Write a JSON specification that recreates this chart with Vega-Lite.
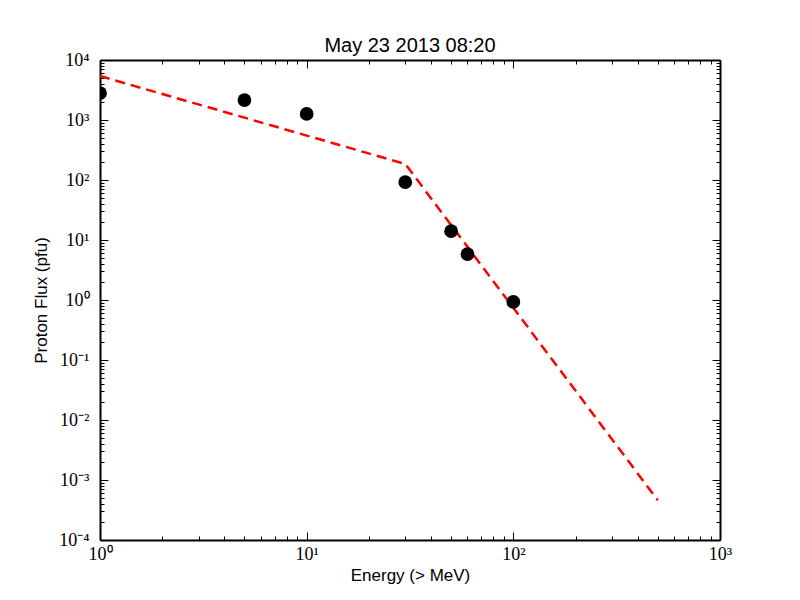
{
  "$schema": "https://vega.github.io/schema/vega-lite/v6.json",
  "width": 620,
  "height": 480,
  "autosize": {"type": "none"},
  "padding": {"left": 100, "top": 60, "right": 80, "bottom": 60},
  "background": "white",
  "title": {"text": "May 23 2013 08:20", "font": "Liberation Sans", "fontSize": 20, "fontWeight": "normal", "color": "black", "offset": -5},
  "datasets": {
    "obs": [
      {"energy": 1, "flux": 2800},
      {"energy": 5, "flux": 2150},
      {"energy": 10, "flux": 1260},
      {"energy": 30, "flux": 92},
      {"energy": 50, "flux": 14},
      {"energy": 60, "flux": 5.8},
      {"energy": 100, "flux": 0.93}
    ],
    "fit": [
      {"energy": 1, "flux": 5400},
      {"energy": 30, "flux": 185},
      {"energy": 500, "flux": 0.00046}
    ]
  },
  "config": {
    "view": {"stroke": null},
    "axis": {
      "grid": false,
      "domainColor": "black",
      "domainWidth": 2,
      "tickColor": "black",
      "tickWidth": 1,
      "labelFont": "Liberation Serif",
      "labelFontSize": 18,
      "labelColor": "black",
      "titleFont": "Liberation Sans",
      "titleFontSize": 17,
      "titleFontWeight": "normal",
      "titleColor": "black"
    }
  },
  "layer": [
    {
      "data": {"name": "fit"},
      "mark": {"type": "line", "color": "red", "strokeWidth": 2.5, "strokeDash": [10, 6], "clip": true},
      "encoding": {
        "x": {
          "field": "energy", "type": "quantitative",
          "scale": {"type": "log", "domain": [1, 1000], "nice": false},
          "axis": {
            "orient": "bottom",
            "title": "Energy (> MeV)",
            "titlePadding": 0,
            "values": [1,2,3,4,5,6,7,8,9,10,20,30,40,50,60,70,80,90,100,200,300,400,500,600,700,800,900,1000],
            "labelExpr": "datum.value == 1 ? '10⁰' : datum.value == 10 ? '10¹' : datum.value == 100 ? '10²' : datum.value == 1000 ? '10³' : ''",
            "labelPadding": 13,
            "labelFlush": false,
            "labelOverlap": false,
            "tickSize": {"condition": {"test": "abs(log(datum.value)/LN10 - round(log(datum.value)/LN10)) < 1e-6", "value": -8}, "value": -4}
          }
        },
        "y": {
          "field": "flux", "type": "quantitative",
          "scale": {"type": "log", "domain": [0.0001, 10000], "nice": false},
          "axis": {
            "orient": "left",
            "title": "Proton Flux (pfu)",
            "titlePadding": 8,
            "values": [0.0001,0.0002,0.0003,0.0004,0.0005,0.0006,0.0007,0.0008,0.0009,0.001,0.002,0.003,0.004,0.005,0.006,0.007,0.008,0.009,0.01,0.02,0.03,0.04,0.05,0.06,0.07,0.08,0.09,0.1,0.2,0.3,0.4,0.5,0.6,0.7,0.8,0.9,1,2,3,4,5,6,7,8,9,10,20,30,40,50,60,70,80,90,100,200,300,400,500,600,700,800,900,1000,2000,3000,4000,5000,6000,7000,8000,9000,10000],
            "labelExpr": "datum.value == 0.0001 ? '10⁻⁴' : datum.value == 0.001 ? '10⁻³' : datum.value == 0.01 ? '10⁻²' : datum.value == 0.1 ? '10⁻¹' : datum.value == 1 ? '10⁰' : datum.value == 10 ? '10¹' : datum.value == 100 ? '10²' : datum.value == 1000 ? '10³' : datum.value == 10000 ? '10⁴' : ''",
            "labelPadding": 19,
            "labelFlush": false,
            "labelOverlap": false,
            "tickSize": {"condition": {"test": "abs(log(datum.value)/LN10 - round(log(datum.value)/LN10)) < 1e-6", "value": -8}, "value": -4}
          }
        }
      }
    },
    {
      "data": {"name": "obs"},
      "mark": {"type": "circle", "color": "black", "opacity": 1, "size": 190, "clip": true},
      "encoding": {
        "x": {
          "field": "energy", "type": "quantitative",
          "scale": {"type": "log", "domain": [1, 1000], "nice": false},
          "axis": {
            "orient": "top",
            "title": null,
            "labels": false,
            "values": [1,2,3,4,5,6,7,8,9,10,20,30,40,50,60,70,80,90,100,200,300,400,500,600,700,800,900,1000],
            "tickSize": {"condition": {"test": "abs(log(datum.value)/LN10 - round(log(datum.value)/LN10)) < 1e-6", "value": -8}, "value": -4}
          }
        },
        "y": {
          "field": "flux", "type": "quantitative",
          "scale": {"type": "log", "domain": [0.0001, 10000], "nice": false},
          "axis": {
            "orient": "right",
            "title": null,
            "labels": false,
            "values": [0.0001,0.0002,0.0003,0.0004,0.0005,0.0006,0.0007,0.0008,0.0009,0.001,0.002,0.003,0.004,0.005,0.006,0.007,0.008,0.009,0.01,0.02,0.03,0.04,0.05,0.06,0.07,0.08,0.09,0.1,0.2,0.3,0.4,0.5,0.6,0.7,0.8,0.9,1,2,3,4,5,6,7,8,9,10,20,30,40,50,60,70,80,90,100,200,300,400,500,600,700,800,900,1000,2000,3000,4000,5000,6000,7000,8000,9000,10000],
            "tickSize": {"condition": {"test": "abs(log(datum.value)/LN10 - round(log(datum.value)/LN10)) < 1e-6", "value": -8}, "value": -4}
          }
        }
      }
    }
  ],
  "resolve": {"axis": {"x": "independent", "y": "independent"}}
}
